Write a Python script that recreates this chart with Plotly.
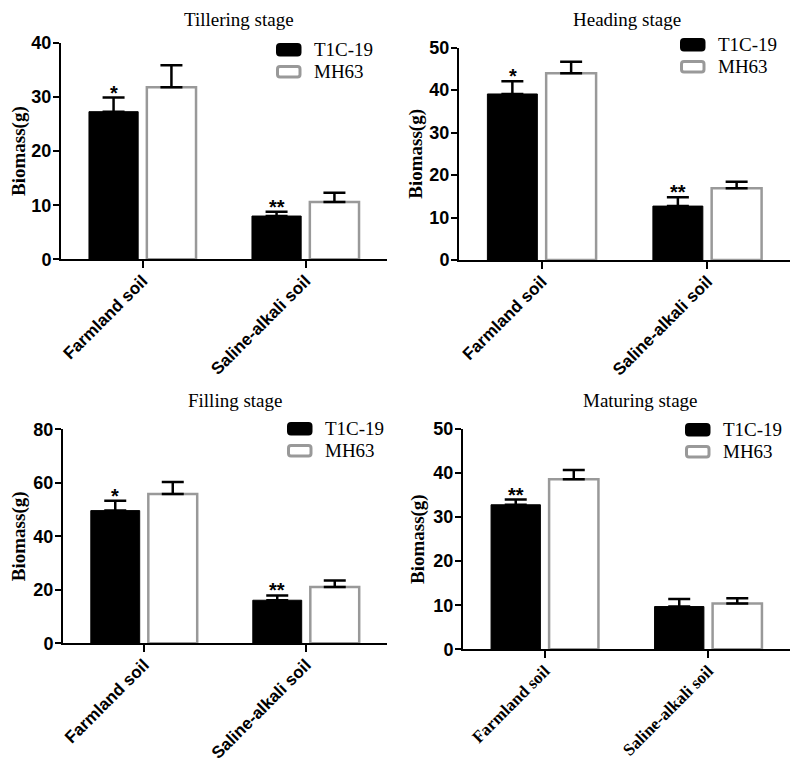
import plotly.graph_objects as go

categories = ["Farmland soil", "Saline-alkali soil"]
stages = ["Tillering stage", "Heading stage", "Filling stage", "Maturing stage"]
series_names = ["T1C-19", "MH63"]

t1c_values = [[27.3, 8.0], [39.1, 12.7], [49.6, 16.1], [32.8, 9.7]]
t1c_errors = [[2.6, 0.8], [3.0, 2.1], [3.7, 1.8], [1.2, 1.7]]
mh63_values = [[31.8, 10.6], [44.0, 16.9], [55.8, 21.0], [38.6, 10.4]]
mh63_errors = [[4.1, 1.7], [2.7, 1.5], [4.5, 2.5], [2.1, 1.2]]
significance = [["*", "**"], ["*", "**"], ["*", "**"], ["**", ""]]
y_max = [40, 50, 80, 50]
y_dtick = [10, 10, 20, 10]

OFF = 8  # page body margin
W, H = 800 - OFF, 763 - OFF
SANS = "Liberation Sans"
SERIF = "Liberation Serif"
GREY = "#999999"

# pixel boxes of panels in window coords: (x0, x1, ytop, ybottom)
boxes = [(61, 387, 43, 259.3), (459, 790, 47.7, 260), (63, 387, 429.3, 643.3), (463, 790, 429, 649.3)]
# panel title centres (window px)
title_pos = [(239, 8, "top"), (627, 8, "top"), (235, 400, "middle"), (640, 400, "middle")]
ytitle_standoff = [8, 2, 10, 4]
# legend swatch top-left corners (px) for first entry; second entry 22 px lower
legend_pos = [(276, 43), (680, 38), (287, 422), (685, 423)]
xlabel_fonts = [SANS, SANS, SANS, SERIF]
fills = ["black", "white"]
borders = ["black", GREY]


def px(x):
    return (x - OFF) / W


def py(y):
    return 1 - (y - OFF) / H


def rounded_rect(x0, y0, x1, y1, r=2.5):
    return (f"M{px(x0 + r)},{py(y0)} L{px(x1 - r)},{py(y0)} Q{px(x1)},{py(y0)} {px(x1)},{py(y0 + r)} "
            f"L{px(x1)},{py(y1 - r)} Q{px(x1)},{py(y1)} {px(x1 - r)},{py(y1)} "
            f"L{px(x0 + r)},{py(y1)} Q{px(x0)},{py(y1)} {px(x0)},{py(y1 - r)} "
            f"L{px(x0)},{py(y0 + r)} Q{px(x0)},{py(y0)} {px(x0 + r)},{py(y0)} Z")


fig = go.Figure()
layout = {}
annotations = []
shapes = []
for i in range(4):
    sfx = "" if i == 0 else str(i + 1)
    xa, ya = "x" + sfx, "y" + sfx
    fig.add_trace(go.Bar(
        x=categories, y=t1c_values[i], name=series_names[0], xaxis=xa, yaxis=ya, showlegend=False,
        marker=dict(color="black", line=dict(color="black", width=1)),
        error_y=dict(type="data", array=t1c_errors[i], arrayminus=[0, 0], symmetric=False,
                     color="black", thickness=2.5, width=11)))
    fig.add_trace(go.Bar(
        x=categories, y=mh63_values[i], name=series_names[1], xaxis=xa, yaxis=ya, showlegend=False,
        marker=dict(color="white", line=dict(color=GREY, width=2.5)),
        error_y=dict(type="data", array=mh63_errors[i], arrayminus=[0, 0], symmetric=False,
                     color="black", thickness=2.5, width=11)))
    x0, x1, yt, yb = boxes[i]
    layout["xaxis" + sfx] = dict(
        domain=[px(x0), px(x1)], anchor=ya, range=[-0.5, 1.5], type="category", automargin=False,
        showline=True, linecolor="black", linewidth=2, ticks="outside", ticklen=7, tickwidth=2,
        tickcolor="black", tickangle=-45, showgrid=False, ticklabelstandoff=-4,
        tickfont=dict(family=xlabel_fonts[i], size=17, color="black", weight="bold"))
    layout["yaxis" + sfx] = dict(
        domain=[py(yb), py(yt)], anchor=xa, range=[0, y_max[i]], dtick=y_dtick[i],
        automargin=False,
        showline=True, linecolor="black", linewidth=2, ticks="outside", ticklen=6, tickwidth=2,
        tickcolor="black", showgrid=False, zeroline=False, ticklabelstandoff=-2,
        tickfont=dict(family=SANS, size=18, color="black", weight="bold"),
        title=dict(text="Biomass(g)", font=dict(family=SERIF, size=19, color="black", weight="bold"),
                   standoff=ytitle_standoff[i]))
    # legend (drawn manually to match swatch shape)
    lx, ly = legend_pos[i]
    for k in range(2):
        sy = ly + k * 22
        shapes.append(dict(type="path", xref="paper", yref="paper",
                           path=rounded_rect(lx + 1.5, sy + 1.5, lx + 24, sy + 12),
                           fillcolor=fills[k], line=dict(color=borders[k], width=3)))
        annotations.append(dict(text=series_names[k], xref="paper", yref="paper",
                                x=px(lx + 36), y=py(sy + 6.5), xanchor="left", yanchor="middle",
                                showarrow=False, font=dict(family=SERIF, size=19, color="black")))
    tx, ty, tanchor = title_pos[i]
    annotations.append(dict(text=stages[i], xref="paper", yref="paper",
                            x=px(tx), y=py(ty), yanchor=tanchor, xanchor="center", borderpad=0,
                            showarrow=False, font=dict(family=SERIF, size=19, color="black")))
    for j, s in enumerate(significance[i]):
        if s:
            annotations.append(dict(text=s, xref=xa, yref=ya, x=categories[j],
                                    y=t1c_values[i][j] + t1c_errors[i][j], xshift=-29, yshift=-8,
                                    yanchor="bottom", showarrow=False,
                                    font=dict(family=SANS, size=20, color="black", weight="bold")))

fig.update_layout(**layout)
fig.update_layout(width=W, height=H, margin=dict(l=0, r=0, t=0, b=0),
                  font=dict(family=SERIF, color="black"),
                  plot_bgcolor="white", paper_bgcolor="white",
                  barmode="group", bargap=0.29, bargroupgap=0.15,
                  annotations=annotations, shapes=shapes, showlegend=False)
fig.write_html("out.html")
